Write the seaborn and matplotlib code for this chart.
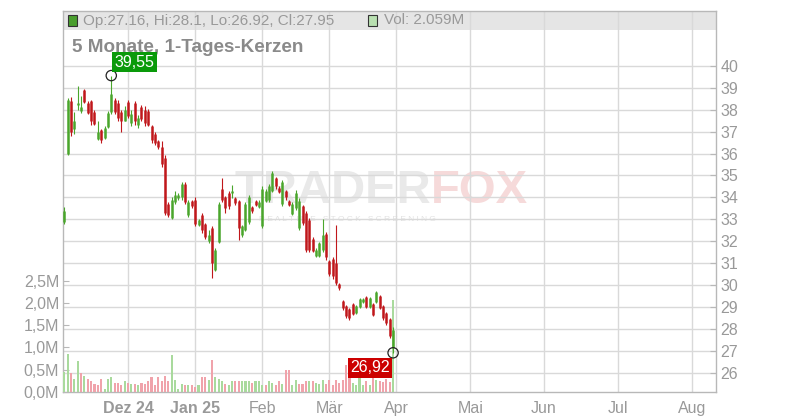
import numpy as np
import pandas as pd
import matplotlib
matplotlib.use("Agg")
import matplotlib.pyplot as plt
from matplotlib.patches import Rectangle
import seaborn as sns

# ---------------- data ----------------
opens = [32.90, 36.00, 38.40, 37.10, 38.20, 37.95, 38.90, 38.30, 38.40, 37.90,
         36.65, 37.05, 36.70, 37.20, 37.90, 38.45, 38.30, 37.90, 37.50, 38.35,
         37.40, 38.30, 37.30, 38.10, 38.00, 37.95, 37.25, 36.90, 36.55, 36.30,
         35.80, 33.70, 33.05, 33.80, 33.95, 34.00, 34.60, 33.20, 33.85, 33.90,
         32.75, 33.20, 32.80, 32.00, 32.60, 30.70, 31.95, 34.40, 34.00, 34.20,
         34.20, 33.95, 33.85, 32.30, 32.50, 32.90, 33.55, 33.85, 33.55, 32.70,
         33.85, 33.90, 34.30, 34.90, 34.45, 33.70, 34.30, 33.85, 33.25, 33.50,
         32.60, 33.60, 33.30, 32.95, 32.10, 31.35, 31.35, 31.60, 32.35, 31.10,
         31.20, 31.00, 30.05, 29.30, 29.05, 28.90, 29.15, 28.75, 29.00, 29.22,
         29.45, 29.00, 29.15, 29.25, 29.50, 29.05, 28.75, 28.45, 27.16]
highs = [33.55, 38.55, 38.56, 37.88, 39.06, 38.60, 38.94, 38.38, 38.45, 38.00,
         37.47, 37.12, 37.24, 37.92, 39.55, 38.53, 38.45, 38.00, 38.15, 38.42,
         38.00, 38.38, 37.77, 38.23, 38.15, 38.03, 37.32, 37.00, 36.60, 36.55,
         35.95, 33.80, 34.00, 34.30, 34.20, 34.70, 34.70, 33.90, 33.90, 34.00,
         33.00, 33.30, 32.85, 32.50, 32.70, 31.70, 33.80, 34.90, 34.05, 34.30,
         34.57, 34.04, 33.90, 32.75, 33.80, 34.10, 33.60, 33.90, 33.88, 34.50,
         34.40, 34.60, 35.20, 34.95, 34.50, 34.80, 34.35, 33.90, 33.80, 34.34,
         33.96, 33.66, 33.36, 33.05, 32.20, 31.70, 31.98, 33.00, 32.44, 31.15,
         31.30, 32.74, 30.10, 29.33, 29.10, 28.95, 29.20, 29.10, 29.40, 29.40,
         29.50, 29.45, 29.20, 29.75, 29.56, 29.10, 28.80, 28.50, 28.10]
lows = [32.79, 35.92, 36.82, 36.90, 38.00, 37.85, 38.30, 37.80, 37.30, 37.30,
        36.60, 36.48, 36.64, 37.17, 37.80, 37.82, 37.47, 36.97, 37.47, 37.62,
        37.24, 37.32, 37.17, 37.47, 37.24, 37.24, 36.48, 36.40, 36.20, 35.40,
        33.20, 33.10, 33.00, 33.70, 33.90, 33.90, 33.70, 33.10, 33.50, 32.70,
        32.70, 32.40, 32.10, 31.90, 30.35, 30.65, 31.90, 33.80, 33.30, 33.45,
        33.96, 33.66, 32.07, 32.20, 32.45, 32.80, 33.30, 33.60, 33.50, 32.60,
        33.80, 33.80, 34.26, 34.40, 34.20, 33.60, 33.90, 33.60, 33.20, 33.43,
        32.50, 32.75, 31.50, 31.50, 31.50, 31.30, 31.27, 31.50, 31.15, 30.40,
        30.30, 30.00, 29.80, 28.88, 28.50, 28.40, 28.65, 28.70, 28.95, 29.20,
        28.95, 28.95, 28.60, 29.20, 28.90, 28.40, 28.20, 27.60, 26.92]
closes = [33.40, 38.45, 37.00, 37.50, 38.30, 38.10, 38.35, 37.85, 37.50, 37.35,
          37.00, 36.60, 37.15, 37.85, 38.70, 37.90, 37.60, 37.50, 38.00, 37.70,
          37.80, 37.50, 37.60, 37.55, 37.40, 37.30, 36.60, 36.50, 36.30, 35.50,
          33.30, 33.20, 33.90, 34.10, 34.10, 34.60, 33.80, 33.80, 33.60, 32.80,
          32.95, 32.50, 32.20, 32.30, 31.00, 31.60, 33.70, 33.90, 33.50, 33.60,
          34.30, 33.75, 32.60, 32.70, 33.70, 34.00, 33.40, 33.65, 33.80, 34.40,
          34.30, 34.50, 35.10, 34.50, 34.25, 34.70, 34.00, 33.65, 33.70, 34.20,
          33.85, 32.85, 31.60, 31.60, 31.55, 31.60, 31.90, 32.30, 31.30, 30.50,
          30.40, 30.10, 29.85, 28.95, 28.60, 28.50, 28.70, 29.05, 29.35, 29.35,
          29.00, 29.40, 28.65, 29.70, 28.95, 28.50, 28.30, 27.70, 27.95]
volumes_m = [0.45, 0.86, 0.41, 0.29, 0.70, 0.41, 0.36, 0.29, 0.23, 0.18,
             0.16, 0.29, 0.07, 0.29, 0.32, 0.20, 0.20, 0.14, 0.25, 0.20,
             0.18, 0.18, 0.16, 0.20, 0.18, 0.25, 0.32, 0.16, 0.32, 0.25,
             0.36, 0.25, 0.83, 0.27, 0.07, 0.18, 0.16, 0.16, 0.16, 0.11,
             0.14, 0.32, 0.32, 0.27, 0.72, 0.32, 0.29, 0.23, 0.18, 0.16,
             0.25, 0.23, 0.25, 0.23, 0.23, 0.25, 0.20, 0.25, 0.25, 0.16,
             0.14, 0.23, 0.20, 0.14, 0.23, 0.18, 0.48, 0.48, 0.16, 0.27,
             0.18, 0.18, 0.25, 0.23, 0.25, 0.20, 0.18, 0.27, 0.18, 0.27,
             0.16, 0.27, 0.20, 0.27, 0.60, 0.50, 0.20, 0.16, 0.31, 0.16,
             0.24, 0.15, 0.31, 0.26, 0.24, 0.22, 0.29, 0.22, 2.059]

month_labels = ["Dez 24", "Jan 25", "Feb", "Mär", "Apr", "Mai", "Jun", "Jul", "Aug"]
month_index = [19, 39, 59, 79, 99, 121, 143, 165, 187]   # trading-day index of month ticks
bold_months = ["Dez 24", "Jan 25"]
price_ticks = list(range(26, 41))
volume_ticks = [0.0, 0.5, 1.0, 1.5, 2.0, 2.5]
title_text = "5 Monate, 1-Tages-Kerzen"

# ---------------- style ----------------
sns.set_style("white")
plt.rcParams['font.family'] = ['Liberation Sans', 'DejaVu Sans']

W, H = 800, 420
L_px, R_px, T_px, B_px = 63.3, 716.0, 11.0, 392.0
px_per_bar = 3.355
x0_px = 64.3
price_px_per_unit = 21.95
price40_px = 65.7
vol_px_per_m = 44.4

GREEN = '#4aa62c'
RED = '#c0171b'
VGREEN = '#a9da9d'
VRED = '#f0a3ab'
TXT = '#999999'
GRID = '#d9d9d9'
SPINE = '#b8b8b8'

n = len(closes)
idx = np.arange(n)
o = np.array(opens); h = np.array(highs); l = np.array(lows); c = np.array(closes)
v = np.array(volumes_m)

fig = plt.figure(figsize=(W / 100, H / 100), dpi=100)
ax_bg = fig.add_axes([L_px / W, 1 - B_px / H, (R_px - L_px) / W, (B_px - T_px) / H])
ax_v = ax_bg.twinx()
ax_c = ax_bg.twinx()

xlim = ((L_px - x0_px) / px_per_bar, (R_px - x0_px) / px_per_bar)
p_lo = 40 - (B_px - price40_px) / price_px_per_unit
p_hi = 40 + (price40_px - T_px) / price_px_per_unit
v_lo = -(B_px - 391.7) / vol_px_per_m
v_hi = (391.7 - T_px) / vol_px_per_m

def px_to_x(xp):
    return (xp - x0_px) / px_per_bar

def px_to_p(yp):
    return 40 - (yp - price40_px) / price_px_per_unit

# ---- background axis: grid, header band, watermark, price ticks ----
ax_bg.set_axisbelow(True)
ax_bg.grid(True, color=GRID, lw=1)
band_y = (B_px - 30) / (B_px - T_px)
ax_bg.add_patch(Rectangle((0, band_y), 1, 1 - band_y, transform=ax_bg.transAxes,
                          facecolor='#e5e5e5', edgecolor='none', zorder=0.3))
for s in ax_bg.spines.values():
    s.set_color(SPINE); s.set_linewidth(1)

ax_bg.set_xticks(month_index)
ax_bg.set_xticklabels(month_labels)
for t in ax_bg.get_xticklabels():
    if t.get_text() in bold_months:
        t.set_fontweight('bold')
ax_bg.set_yticks(price_ticks)
ax_bg.set_yticklabels([str(p) for p in price_ticks])
ax_bg.yaxis.tick_right()
ax_bg.tick_params(axis='x', direction='out', length=2.5, width=0.8, color=SPINE,
                  pad=4, labelsize=11.5, labelcolor=TXT)
ax_bg.tick_params(axis='y', direction='in', length=4, width=0.8, color=SPINE,
                  pad=3, labelsize=11.5, labelcolor=TXT, right=True, left=False,
                  labelright=True, labelleft=False)
ax_bg.set_ylim(p_lo, p_hi)

# watermark
ax_bg.text(px_to_x(431), px_to_p(191), "TRADER", ha='right', va='center',
           fontsize=34, fontweight='bold', color='#e9e9e9', zorder=0.35)
ax_bg.text(px_to_x(431), px_to_p(191), "FOX", ha='left', va='center',
           fontsize=34, fontweight='bold', color='#f6dada', zorder=0.35)
ax_bg.text(px_to_x(347), px_to_p(219),
           "R E A L T I M E   S T O C K   S C R E E N I N G", ha='center', va='center',
           fontsize=6, color='#e2e2e2', zorder=0.35)

# header texts (on ax_bg so that the price labels cover them)
def figtext(xp, yp, s, **kw):
    ax_bg.text(xp / W, 1 - yp / H, s, transform=fig.transFigure, clip_on=False, **kw)

fig_tr = fig.transFigure
ax_bg.add_patch(Rectangle((68 / W, 1 - 26 / H), 9 / W, 11 / H, transform=fig_tr,
                          facecolor='#4a9e2e', edgecolor='#333333', lw=0.8,
                          clip_on=False, zorder=3))
ax_bg.add_patch(Rectangle((368 / W, 1 - 26 / H), 9 / W, 11 / H, transform=fig_tr,
                          facecolor='#b9e0b1', edgecolor='#333333', lw=0.8,
                          clip_on=False, zorder=3))
fmt = lambda x: f"{x:g}"
figtext(83, 20.5, f"Op:{fmt(o[-1])}, Hi:{fmt(h[-1])}, Lo:{fmt(l[-1])}, Cl:{fmt(c[-1])}",
        fontsize=11, color=TXT, va='center', ha='left')
figtext(384, 20.5, f"Vol: {v[-1]:.3f}M", fontsize=11, color=TXT, va='center', ha='left')
figtext(72, 47, title_text, fontsize=13.6, fontweight='bold', color='#8a8a8a',
        va='center', ha='left')

# ---- volume axis ----
prev = np.concatenate([[o[0]], c[:-1]])
vdir = np.where(c >= prev, 'up', 'down')
df_v = pd.DataFrame({'idx': idx, 'vol': v, 'dir': vdir})
sns.barplot(data=df_v, x='idx', y='vol', hue='dir', palette={'up': VGREEN, 'down': VRED},
            native_scale=True, width=0.62, errorbar=None, legend=False, dodge=False,
            saturation=1, linewidth=0, ax=ax_v)
ax_v.set_xlabel(''); ax_v.set_ylabel('')
ax_v.set_ylim(v_lo, v_hi)
ax_v.yaxis.tick_left()
ax_v.set_yticks(volume_ticks)
ax_v.set_yticklabels([f"{t:.1f}M".replace('.', ',') for t in volume_ticks])
ax_v.tick_params(axis='y', direction='in', length=4, width=0.8, color=SPINE, pad=3,
                 labelsize=11.5, labelcolor=TXT, left=True, labelleft=True,
                 right=False, labelright=False)
for s in ax_v.spines.values():
    s.set_visible(False)

# ---- candle axis ----
cols = np.where(c >= o, GREEN, RED)
ax_c.vlines(idx, l, h, colors=cols, lw=0.8, zorder=2)
body_lo = np.minimum(o, c); body_hi = np.maximum(o, c)
ax_c.vlines(idx, body_lo, body_hi, colors=cols, lw=1.8, zorder=2)
ax_c.set_ylim(p_lo, p_hi)
ax_c.set_yticks([])
ax_c.tick_params(right=False, labelright=False)
for s in ax_c.spines.values():
    s.set_visible(False)

i_hi = int(np.argmax(h)); i_lo = int(np.argmin(l))
ext = pd.DataFrame({'x': [i_hi, i_lo], 'y': [h[i_hi], l[i_lo]]})
sns.scatterplot(data=ext, x='x', y='y', s=55, facecolor='none', edgecolor='#222222',
                linewidth=0.9, ax=ax_c, zorder=4, legend=False)
ax_c.set_xlabel(''); ax_c.set_ylabel('')
ax_c.annotate(f"{h[i_hi]:.2f}".replace('.', ','), xy=(i_hi, h[i_hi]), xytext=(2.2, 4.3),
              textcoords='offset points', ha='left', va='bottom', color='white',
              fontsize=11.5, zorder=5,
              bbox=dict(boxstyle='square,pad=0.15', fc='#0a9a0a', ec='none'))
ax_c.annotate(f"{l[i_lo]:.2f}".replace('.', ','), xy=(i_lo, l[i_lo]), xytext=(-2.5, -5.3),
              textcoords='offset points', ha='right', va='top', color='white',
              fontsize=11.5, zorder=5,
              bbox=dict(boxstyle='square,pad=0.15', fc='#cc0000', ec='none'))

ax_bg.set_xlim(*xlim)
fig.savefig("out.png", dpi=100)
